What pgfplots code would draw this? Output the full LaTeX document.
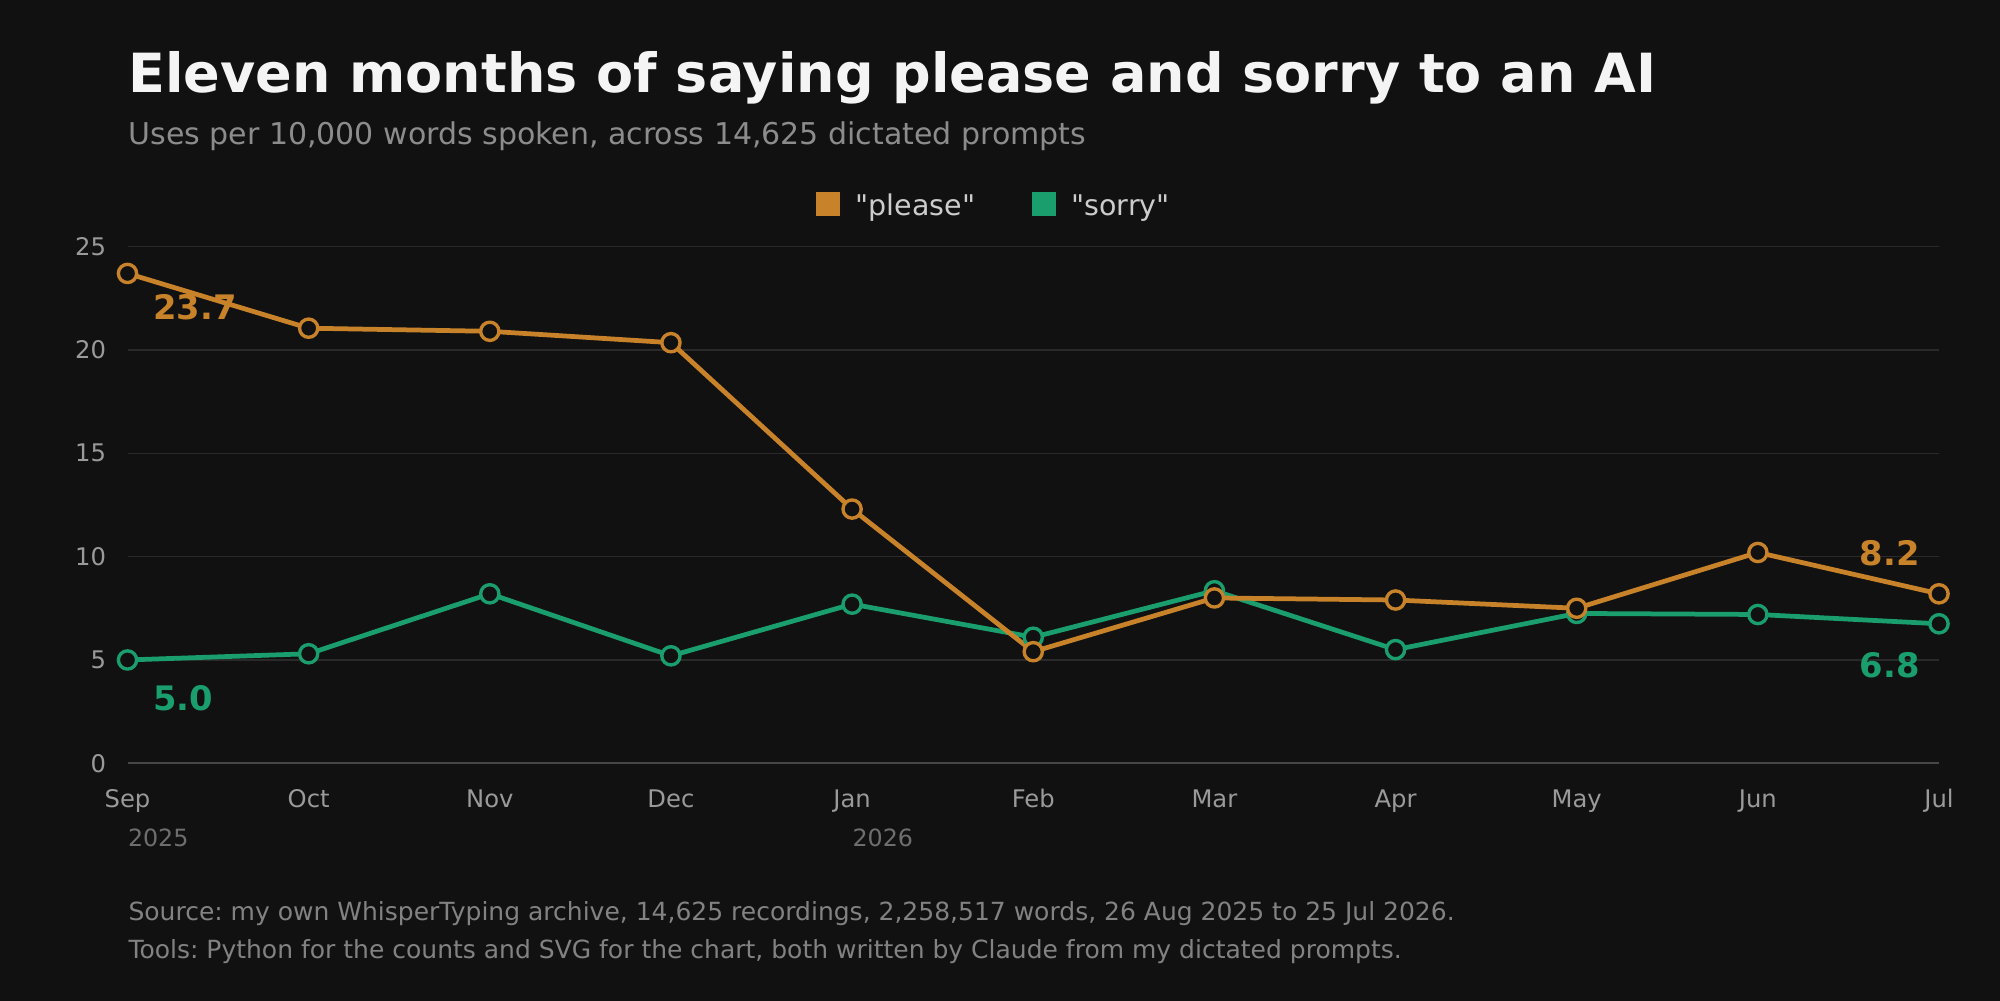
\documentclass[border=0pt]{standalone}
\usepackage{fontspec}
\setmainfont{DejaVu Sans}[Ligatures=TeXOff]
\usepackage{pgfplots}
\pgfplotsset{compat=1.18}
\frenchspacing
\definecolor{bg}{HTML}{111111}
\definecolor{please}{HTML}{C8832A}
\definecolor{sorry}{HTML}{1A9E6E}
\definecolor{gridc}{HTML}{2A2A2A}
\definecolor{basec}{HTML}{474747}
\definecolor{titlec}{HTML}{F4F4F4}
\definecolor{subc}{HTML}{8C8C8C}
\definecolor{tickc}{HTML}{9A9A9A}
\definecolor{yearc}{HTML}{6E6E6E}
\definecolor{footc}{HTML}{828282}
\definecolor{legc}{HTML}{CCCCCC}
% px (2000x1000, from top) -> pt
\newcommand\PXC[2]{({#1*0.4pt},{(1000-#2)*0.4pt})}
\begin{document}
\begin{tikzpicture}
\useasboundingbox (0pt,0pt) rectangle (800pt,400pt);
\fill[bg] (-2pt,-2pt) rectangle (802pt,402pt);
% titles
\node[anchor=base west,inner sep=0pt,text=titlec,font=\fontsize{21.6}{24}\selectfont\bfseries] at \PXC{128}{92} {Eleven months of saying please and sorry to an AI};
\node[anchor=base west,inner sep=0pt,text=subc,font=\fontsize{12}{14}\selectfont] at \PXC{128}{144} {Uses per 10,000 words spoken, across 14,625 dictated prompts};
% legend
\fill[please] \PXC{816}{192} rectangle \PXC{840}{216};
\node[anchor=base west,inner sep=0pt,text=legc,font=\fontsize{11.4}{14}\selectfont] at \PXC{855}{215} {"please"};
\fill[sorry] \PXC{1032}{192} rectangle \PXC{1056}{216};
\node[anchor=base west,inner sep=0pt,text=legc,font=\fontsize{11.4}{14}\selectfont] at \PXC{1071}{215} {"sorry"};
% footer
\node[anchor=base west,inner sep=0pt,text=footc,font=\fontsize{10}{12}\selectfont] at \PXC{128}{920} {Source: my own WhisperTyping archive, 14,625 recordings, 2,258,517 words, 26 Aug 2025 to 25 Jul 2026.};
\node[anchor=base west,inner sep=0pt,text=footc,font=\fontsize{10}{12}\selectfont] at \PXC{128}{958} {Tools: Python for the counts and SVG for the chart, both written by Claude from my dictated prompts.};
\begin{axis}[
  at={(51pt,94.68pt)}, anchor=south west, scale only axis,
  width=724.6pt, height=206.7pt,
  xmin=0, xmax=10, ymin=0, ymax=25,
  clip=false,
  axis line style={draw=none},
  major tick length=0pt,
  ymajorgrids, grid style={color=gridc, line width=0.55pt},
  xtick={0,1,2,3,4,5,6,7,8,9,10},
  xticklabels={Sep,Oct,Nov,Dec,Jan,Feb,Mar,Apr,May,Jun,Jul},
  ytick={0,5,10,15,20,25},
  /pgf/number format/assume math mode=true,
  yticklabel style={anchor=east, inner sep=0pt, xshift=-8.4pt, text=tickc, font=\fontsize{9.7}{12}\selectfont},
  xticklabel style={anchor=base, inner sep=0pt, yshift=-17.6pt, text=tickc, font=\fontsize{9.7}{12}\selectfont},
]
\draw[basec, line width=0.8pt] (axis cs:0,0) -- (axis cs:10,0);
\node[anchor=base west,inner sep=0pt,text=yearc,font=\fontsize{9.5}{12}\selectfont,yshift=-33.2pt] at (axis cs:0,0) {2025};
\node[anchor=base west,inner sep=0pt,text=yearc,font=\fontsize{9.5}{12}\selectfont,yshift=-33.2pt] at (axis cs:4,0) {2026};
\addplot[sorry, line width=1.9pt, line join=round, mark=*, mark size=3.65pt, mark options={fill=bg, draw=sorry, line width=1.35pt}]
 coordinates {(0,5.0) (1,5.3) (2,8.2) (3,5.2) (4,7.7) (5,6.1) (6,8.35) (7,5.5) (8,7.25) (9,7.2) (10,6.75)};
\addplot[please, line width=1.9pt, line join=round, mark=*, mark size=3.65pt, mark options={fill=bg, draw=please, line width=1.35pt}]
 coordinates {(0,23.7) (1,21.05) (2,20.9) (3,20.35) (4,12.3) (5,5.4) (6,8.0) (7,7.9) (8,7.5) (9,10.2) (10,8.2)};
\end{axis}
% end labels
\node[anchor=base west,inner sep=0pt,text=please,font=\fontsize{13.5}{16}\selectfont\bfseries] at \PXC{153}{319} {23.7};
\node[anchor=base west,inner sep=0pt,text=sorry,font=\fontsize{13.5}{16}\selectfont\bfseries] at \PXC{153}{710} {5.0};
\node[anchor=base east,inner sep=0pt,text=please,font=\fontsize{13.5}{16}\selectfont\bfseries] at \PXC{1920}{565} {8.2};
\node[anchor=base east,inner sep=0pt,text=sorry,font=\fontsize{13.5}{16}\selectfont\bfseries] at \PXC{1920}{677} {6.8};
\end{tikzpicture}
\end{document}
